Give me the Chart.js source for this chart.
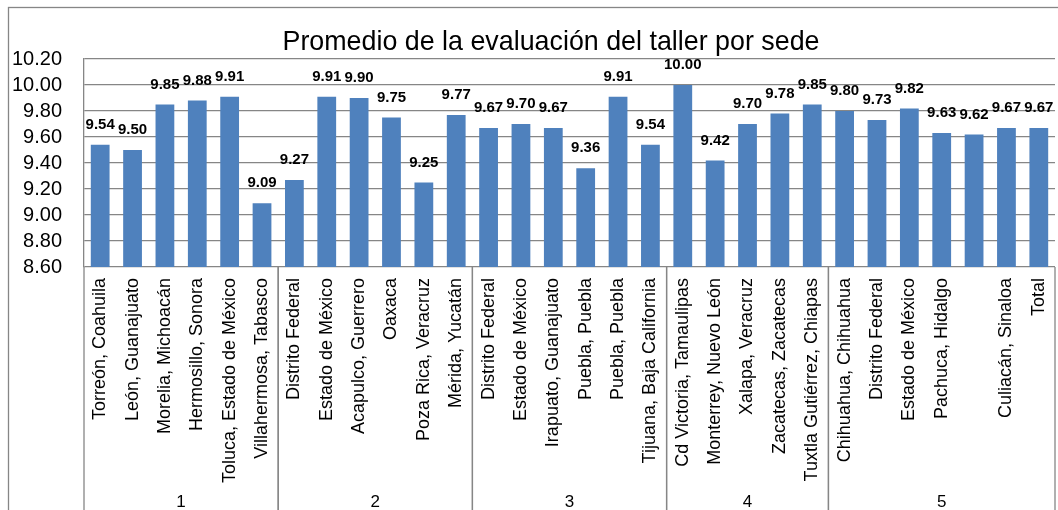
<!DOCTYPE html>
<html>
<head>
<meta charset="utf-8">
<script src="https://cdn.jsdelivr.net/npm/chart.js@4/dist/chart.umd.min.js"></script>
<style>
  body { margin: 0; background: #fff; }
</style>
</head>
<body>
<canvas id="sedeChart" width="1058" height="510"></canvas>
<script>
// sedes (una por barra) y su grupo
var sedes = [
  "Torreón, Coahuila", "León, Guanajuato", "Morelia, Michoacán", "Hermosillo, Sonora", "Toluca, Estado de México", "Villahermosa, Tabasco",
  "Distrito Federal", "Estado de México", "Acapulco, Guerrero", "Oaxaca", "Poza Rica, Veracruz", "Mérida, Yucatán",
  "Distrito Federal", "Estado de México", "Irapuato, Guanajuato", "Puebla, Puebla", "Puebla, Puebla", "Tijuana, Baja California",
  "Cd Victoria, Tamaulipas", "Monterrey, Nuevo León", "Xalapa, Veracruz", "Zacatecas, Zacatecas", "Tuxtla Gutiérrez, Chiapas",
  "Chihuahua, Chihuahua", "Distrito Federal", "Estado de México", "Pachuca, Hidalgo", "", "Culiacán, Sinaloa", "Total"
];
var promedios = [
  9.54, 9.50, 9.85, 9.88, 9.91, 9.09,
  9.27, 9.91, 9.90, 9.75, 9.25, 9.77,
  9.67, 9.70, 9.67, 9.36, 9.91, 9.54,
  10.00, 9.42, 9.70, 9.78, 9.85,
  9.80, 9.73, 9.82, 9.63, 9.62, 9.67, 9.67
];
var grupos = ["1", "2", "3", "4", "5"];
var sedesPorGrupo = [6, 6, 6, 5, 7];
var yMin = 8.6, yMax = 10.2, yStep = 0.2;

var titulo = "Promedio de la evaluación del taller por sede";
var lineColor = "#868686";

var marcoPlugin = {
  id: "marco",
  beforeDraw: function (chart) {
    var ctx = chart.ctx;
    ctx.save();
    ctx.fillStyle = "#fff";
    ctx.fillRect(0, 0, chart.width, chart.height);
    ctx.strokeStyle = lineColor;
    ctx.lineWidth = 1.3;
    ctx.strokeRect(8.5, 7.5, chart.width + 10, chart.height + 10);
    // titulo
    ctx.fillStyle = "#000";
    ctx.textAlign = "center";
    ctx.textBaseline = "middle";
    ctx.font = "28px 'Liberation Sans Narrow', 'Liberation Sans', Arial";
    var w = ctx.measureText(titulo).width;
    var target = 537;
    ctx.translate(551, 42);
    if (w > target) ctx.scale(target / w, 1);
    ctx.fillText(titulo, 0, 0);
    ctx.restore();
  }
};

var etiquetasPlugin = {
  id: "etiquetas",
  afterDatasetsDraw: function (chart) {
    var ctx = chart.ctx;
    var meta = chart.getDatasetMeta(0);
    ctx.save();
    ctx.fillStyle = "#000";
    ctx.font = "bold 15px 'Liberation Sans', Arial";
    ctx.textAlign = "center";
    ctx.textBaseline = "middle";
    meta.data.forEach(function (bar, i) {
      ctx.fillText(promedios[i].toFixed(2), bar.x, bar.y - 20);
    });
    ctx.restore();
  }
};

var gruposPlugin = {
  id: "grupos",
  afterDraw: function (chart) {
    var ctx = chart.ctx;
    var x = chart.scales.x;
    var area = chart.chartArea;
    var half = (x.getPixelForValue(1) - x.getPixelForValue(0)) / 2;
    ctx.save();
    ctx.strokeStyle = lineColor;
    ctx.lineWidth = 1.3;
    ctx.fillStyle = "#000";
    ctx.font = "17px 'Liberation Sans', Arial";
    ctx.textAlign = "center";
    ctx.textBaseline = "middle";
    var start = 0;
    sedesPorGrupo.forEach(function (n, g) {
      var left = x.getPixelForValue(start) - half;
      var right = x.getPixelForValue(start + n - 1) + half;
      [left, right].forEach(function (px) {
        ctx.beginPath();
        ctx.moveTo(px, area.bottom);
        ctx.lineTo(px, chart.height);
        ctx.stroke();
      });
      ctx.fillText(grupos[g], (left + right) / 2, 502);
      start += n;
    });
    ctx.restore();
  }
};

new Chart(document.getElementById("sedeChart"), {
  type: "bar",
  data: {
    labels: sedes,
    datasets: [{
      data: promedios,
      backgroundColor: "#4F81BD",
      borderWidth: 0,
      barPercentage: 0.58,
      categoryPercentage: 1
    }]
  },
  options: {
    responsive: false,
    animation: false,
    layout: { padding: { top: 59, right: 3, bottom: 0, left: 0 } },
    plugins: {
      legend: { display: false },
      title: { display: false },
      tooltip: { enabled: false }
    },
    scales: {
      x: {
        grid: { display: false, drawTicks: false },
        border: { display: false },
        ticks: {
          autoSkip: false,
          maxRotation: 90,
          minRotation: 90,
          padding: 11,
          color: "#000",
          font: { family: "'Liberation Sans', Arial", size: 18 }
        },
        afterFit: function (scale) {
          scale.height = 243;
          scale.paddingLeft = 0;
          scale.paddingRight = 0;
        }
      },
      y: {
        min: yMin,
        max: yMax,
        grid: { color: lineColor, lineWidth: 1.3, drawTicks: false },
        border: { display: true, color: lineColor, width: 1.3 },
        ticks: {
          stepSize: yStep,
          autoSkip: false,
          padding: 22,
          color: "#000",
          font: { family: "'Liberation Sans', Arial", size: 20 },
          callback: function (v) { return Number(v).toFixed(2); }
        },
        afterFit: function (scale) {
          scale.width = 84;
          scale.paddingTop = 0;
          scale.paddingBottom = 0;
        }
      }
    }
  },
  plugins: [marcoPlugin, etiquetasPlugin, gruposPlugin]
});
</script>
</body>
</html>
